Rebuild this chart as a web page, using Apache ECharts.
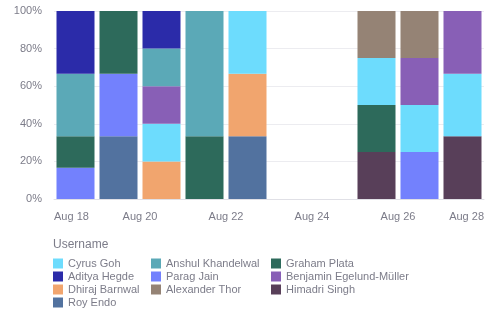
<!DOCTYPE html>
<html><head><meta charset="utf-8">
<script src="https://cdn.jsdelivr.net/npm/echarts@6/dist/echarts.min.js"></script>
<style>html,body{margin:0;padding:0;background:#fff}#c{width:497px;height:322px}</style>
</head><body><div id="c"></div>
<script>
// Days: Aug 18 .. Aug 27
const days = ['Aug 18','Aug 19','Aug 20','Aug 21','Aug 22','Aug 23','Aug 24','Aug 25','Aug 26','Aug 27'];
const tickLabels = ['Aug 18','Aug 20','Aug 22','Aug 24','Aug 26','Aug 28'];
const yTicks = ['0%','20%','40%','60%','80%','100%'];
// counts per user per day (stack order bottom -> top)
const users = ['Roy Endo','Himadri Singh','Dhiraj Barnwal','Parag Jain','Graham Plata','Cyrus Goh','Benjamin Egelund-Müller','Anshul Khandelwal','Aditya Hegde','Alexander Thor'];
const royEndo     = [0,1,0,0,1,0,0,0,0,0];
const himadri     = [0,0,0,0,0,0,0,1,0,1];
const dhiraj      = [0,0,1,0,1,0,0,0,0,0];
const parag       = [1,1,0,0,0,0,0,0,1,0];
const graham      = [1,1,0,1,0,0,0,1,0,0];
const cyrus       = [0,0,1,0,1,0,0,1,1,1];
const benjamin    = [0,0,1,0,0,0,0,0,1,1];
const anshul      = [2,0,1,2,0,0,0,0,0,0];
const aditya      = [2,0,1,0,0,0,0,0,0,0];
const alexander   = [0,0,0,0,0,0,0,1,1,0];
const seriesCounts = [royEndo,himadri,dhiraj,parag,graham,cyrus,benjamin,anshul,aditya,alexander];
const colors = {
 'Cyrus Goh':'#6ddcfd','Anshul Khandelwal':'#5ba9b7','Graham Plata':'#2d6a5b',
 'Aditya Hegde':'#2b2ba9','Parag Jain':'#7381fd','Benjamin Egelund-Müller':'#885fb6',
 'Dhiraj Barnwal':'#f1a56e','Alexander Thor':'#958375','Himadri Singh':'#583f59','Roy Endo':'#52729f'
};
const legendCols = [
 ['Cyrus Goh','Aditya Hegde','Dhiraj Barnwal','Roy Endo'],
 ['Anshul Khandelwal','Parag Jain','Alexander Thor'],
 ['Graham Plata','Benjamin Egelund-Müller','Himadri Singh']
];
const totals = days.map((d,i)=>seriesCounts.reduce((s,a)=>s+a[i],0));
const series = users.map((u,k)=>({
  name:u, type:'bar', stack:'all', barWidth:38, xAxisIndex:0,
  itemStyle:{color:colors[u]},
  data: days.map((d,i)=> totals[i] ? seriesCounts[k][i]/totals[i]*100 : 0)
}));
const font = '"Liberation Sans", Arial, sans-serif';
const gray = '#7c7c89';
const chart = echarts.init(document.getElementById('c'));
chart.setOption({
  animation:false,
  textStyle:{fontFamily:font},
  grid:{left:54,right:13,top:11,bottom:123},
  title:{text:'Username',left:53,top:239,padding:0,textStyle:{fontSize:12,fontWeight:'normal',color:gray,fontFamily:font}},
  legend: legendCols.map((col,j)=>({
    data:col, orient:'vertical', left:[53,151,271][j], top:257, padding:0,
    itemWidth:10,itemHeight:10,itemGap:0,icon:'rect',
    textStyle:{fontSize:11,color:gray,fontFamily:font,lineHeight:13},
    selectedMode:false
  })),
  xAxis:[
    {type:'category',data:days,position:'bottom',
     axisLine:{show:true,lineStyle:{color:'#e0e0e6'}},axisTick:{show:false},axisLabel:{show:false},splitLine:{show:false}},
    {type:'value',min:0,max:10,interval:2,position:'bottom',
     axisLine:{show:false},axisTick:{show:false},splitLine:{show:false},
     axisLabel:{color:gray,fontSize:11,margin:12,alignMinLabel:'left',alignMaxLabel:'right',fontFamily:font,
       formatter:v=>tickLabels[Math.round(v/2)]}}
  ],
  yAxis:{type:'value',min:0,max:100,interval:20,
    axisLabel:{color:gray,fontSize:11,margin:12,fontFamily:font,formatter:v=>yTicks[Math.round(v/20)]},
    splitLine:{lineStyle:{color:'#ececf0'}},axisLine:{show:false},axisTick:{show:false}},
  series
});
</script></body></html>
